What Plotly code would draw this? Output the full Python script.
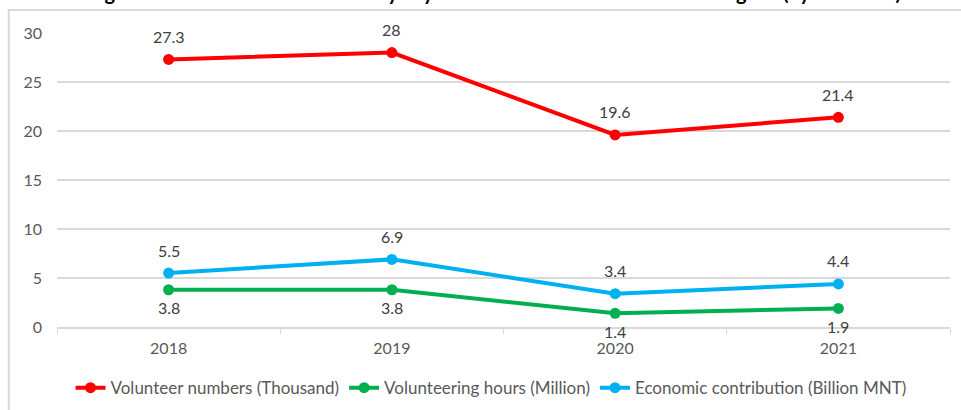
import plotly.graph_objects as go

years = ["2018", "2019", "2020", "2021"]
volunteer_numbers = [27.3, 28, 19.6, 21.4]
volunteering_hours = [3.8, 3.8, 1.4, 1.9]
economic_contribution = [5.5, 6.9, 3.4, 4.4]
y_ticks = [0, 5, 10, 15, 20, 25, 30]
title_text = "Figure 1. Volunteer contribution by key indicators of volunteerism in Mongolia (by Numbers)"

series = [
    ("Volunteer numbers (Thousand)", volunteer_numbers, "#FF0000", 23),
    ("Volunteering hours (Million)", volunteering_hours, "#00B050", -18),
    ("Economic contribution (Billion MNT)", economic_contribution, "#00B0F0", 23),
]

FONT = "Lato, 'Open Sans', sans-serif"

fig = go.Figure()
for name, vals, color, shift in series:
    fig.add_trace(go.Scatter(
        x=years, y=vals, name=name, mode="lines+markers",
        line=dict(color=color, width=4),
        marker=dict(color=color, size=11),
        cliponaxis=False,
    ))
    for i, yv in enumerate(vals):
        fig.add_annotation(
            x=i, y=yv, xref="x", yref="y", text=f"{yv:g}", showarrow=False, yshift=shift,
            xanchor="center", yanchor="middle",
            font=dict(family=FONT, size=16, color="#404040"),
        )

fig.add_annotation(
    text=title_text, xref="paper", yref="paper", x=0.49, y=1.092,
    xanchor="center", yanchor="bottom", showarrow=False,
    font=dict(family=FONT, size=20, color="#000000", weight="bold"),
)

fig.add_shape(type="rect", xref="paper", yref="paper",
              x0=-0.054, x1=1.2, y0=-0.5, y1=1.078,
              line=dict(color="#D9D9D9", width=2), layer="below")

fig.update_layout(
    width=961, height=410,
    margin=dict(l=57, r=11, t=33, b=83, autoexpand=False),
    paper_bgcolor="white", plot_bgcolor="white",
    font=dict(family=FONT, size=16, color="#595959"),
    showlegend=True,
    legend=dict(orientation="h", x=0.486, xanchor="center", y=-0.208, yanchor="middle",
                font=dict(family=FONT, size=17, color="#595959"),
                itemwidth=30, tracegroupgap=0, itemclick=False),
    xaxis=dict(type="category", range=[-0.5, 3.5], showgrid=False,
               showline=True, linecolor="#D9D9D9", linewidth=1.5,
               ticks="outside", tickson="boundaries", ticklen=5, tickcolor="#D9D9D9",
               ticklabelstandoff=6,
               tickfont=dict(size=16, color="#595959"), fixedrange=True),
    yaxis=dict(range=[0, 30], tickvals=y_ticks, showgrid=True, gridcolor="#D9D9D9",
               gridwidth=1.5, zeroline=False, showline=False, ticks="",
               ticklabelstandoff=14,
               tickfont=dict(size=16, color="#595959"), fixedrange=True),
)

fig.write_html("out.html", config={"displayModeBar": False},
               post_script="document.body.style.margin='0';")
